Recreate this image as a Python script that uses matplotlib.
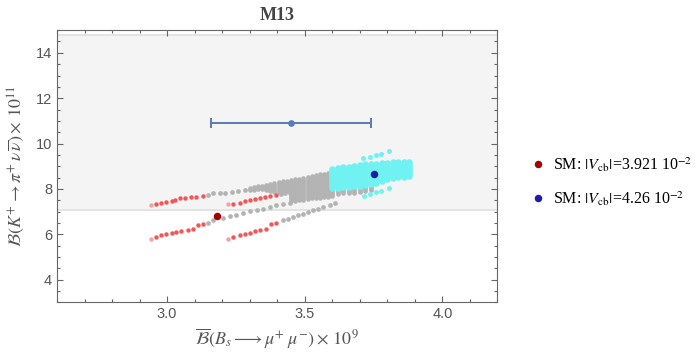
import numpy as np
import matplotlib
matplotlib.use("Agg")
import matplotlib.pyplot as plt
from matplotlib.ticker import MultipleLocator

# ======================
# Données
# ======================
# branches rouges (x, y)
red_a_x = [2.940, 2.958, 2.979, 2.997, 3.016, 3.028, 3.046, 3.064, 3.088, 3.106, 3.131]
red_a_y = [7.31, 7.35, 7.40, 7.43, 7.47, 7.53, 7.58, 7.62, 7.66, 7.65, 7.71]
red_b_x = [3.222, 3.240, 3.264, 3.282, 3.300, 3.318, 3.336, 3.355, 3.373, 3.397]
red_b_y = [7.32, 7.35, 7.40, 7.45, 7.50, 7.55, 7.60, 7.63, 7.68, 7.72]
red_c_x = [2.940, 2.961, 2.979, 2.997, 3.016, 3.034, 3.052, 3.076, 3.094, 3.113, 3.131]
red_c_y = [5.81, 5.88, 5.96, 6.00, 6.06, 6.10, 6.15, 6.18, 6.22, 6.43, 6.47]
red_d_x = [3.222, 3.240, 3.264, 3.282, 3.300, 3.318, 3.336, 3.361, 3.379, 3.397]
red_d_y = [5.81, 5.88, 5.96, 6.03, 6.07, 6.13, 6.18, 6.22, 6.47, 6.52]

# traces grises (points)
grey_up_x = [3.149, 3.167, 3.191, 3.209, 3.234, 3.258, 3.282]
grey_up_y = [7.75, 7.80, 7.80, 7.84, 7.87, 7.90, 7.94]
grey_low_x = [3.149, 3.167, 3.203, 3.227, 3.252, 3.276, 3.300, 3.325, 3.349, 3.373, 3.397, 3.421, 3.445]
grey_low_y = [6.52, 6.62, 6.74, 6.80, 6.87, 6.95, 7.02, 7.07, 7.13, 7.20, 7.28, 7.33, 7.38]
grey_mid_x = [3.415, 3.430, 3.445]
grey_mid_y = [7.76, 7.80, 7.84]
grey_right_x = [3.421, 3.440, 3.458, 3.476, 3.494, 3.512, 3.530, 3.548, 3.567, 3.590, 3.610]
grey_right_y = [6.62, 6.69, 6.76, 6.84, 6.91, 6.99, 7.06, 7.13, 7.21, 7.28, 7.36]
# zone grise dense (colonnes x, ymin, ymax)
grey_col_x = [3.300, 3.315, 3.330, 3.345, 3.360, 3.375, 3.390, 3.405, 3.420, 3.435,
              3.450, 3.465, 3.480, 3.495, 3.510, 3.525, 3.540, 3.555, 3.570, 3.585,
              3.600, 3.620, 3.640, 3.660, 3.680, 3.700, 3.720, 3.740]
grey_col_lo = [7.95, 7.96, 7.98, 7.99, 7.97, 7.93, 7.88, 7.86, 7.88, 7.90,
               7.45, 7.48, 7.50, 7.52, 7.55, 7.58, 7.60, 7.62, 7.64, 7.66,
               7.70, 7.76, 7.80, 7.82, 7.84, 7.86, 7.90, 7.95]
grey_col_hi = [8.04, 8.08, 8.11, 8.14, 8.18, 8.22, 8.25, 8.29, 8.33, 8.36,
               8.39, 8.42, 8.46, 8.50, 8.53, 8.57, 8.60, 8.64, 8.67, 8.70,
               8.60, 8.45, 8.35, 8.30, 8.30, 8.30, 8.30, 8.30]

# nuage cyan (colonnes x, ymin, ymax) + points isolés
cyan_col_x = [3.60, 3.62, 3.64, 3.66, 3.68, 3.70, 3.72, 3.74, 3.76, 3.78, 3.80, 3.82, 3.84, 3.86, 3.88]
cyan_col_lo = [8.02, 8.05, 8.08, 8.10, 8.12, 8.15, 8.18, 8.22, 8.28, 8.35, 8.42, 8.48, 8.52, 8.53, 8.55]
cyan_col_hi = [8.90, 8.92, 8.95, 8.98, 9.02, 9.05, 9.08, 9.10, 9.12, 9.14, 9.16, 9.18, 9.19, 9.19, 9.17]
cyan_up_x = [3.712, 3.736, 3.757, 3.778, 3.805]
cyan_up_y = [9.37, 9.41, 9.49, 9.56, 9.66]
cyan_dn_x = [3.716, 3.736, 3.757, 3.778, 3.805]
cyan_dn_y = [7.69, 7.78, 7.87, 7.91, 8.02]

# mesure expérimentale
exp_x, exp_xerr, exp_y = 3.45, 0.29, 10.9
band_lo, band_hi = 7.08, 14.78

# points SM
sm_red = (3.183, 6.81)
sm_blue = (3.752, 8.64)
sm_labels = [r"SM: $|V_{\rm cb}|$=3.921 10$^{-2}$", r"SM: $|V_{\rm cb}|$=4.26 10$^{-2}$"]

# ======================
# Figure
# ======================
plt.rcParams["mathtext.fontset"] = "stix"
fig = plt.figure(figsize=(7, 3.63), dpi=100)
ax = fig.add_axes([0.0814, 0.167, 0.6293, 0.750])

ax.axhspan(band_lo, band_hi, color="#f4f4f4", lw=0, zorder=0)
ax.axhline(band_lo, color="#e3e3e3", lw=1.4, zorder=0.5)
ax.axhline(band_hi, color="#e3e3e3", lw=1.4, zorder=0.5)

grey = "#b3b3b3"
red = "#f25757"
cyan = "#70f2f2"

ax.vlines(grey_col_x, grey_col_lo, grey_col_hi, color=grey, lw=3.4, capstyle="round", zorder=1)
for gx, gy in [(grey_up_x, grey_up_y), (grey_low_x, grey_low_y),
               (grey_mid_x, grey_mid_y), (grey_right_x, grey_right_y)]:
    ax.plot(gx, gy, "o", color=grey, ms=3.4, mew=0, zorder=1)

for rx, ry in [(red_a_x, red_a_y), (red_b_x, red_b_y), (red_c_x, red_c_y), (red_d_x, red_d_y)]:
    ax.plot(rx[1:], ry[1:], "o", color=red, ms=3.2, mew=0, zorder=2)
    ax.plot(rx[:1], ry[:1], "o", color="#f4a3a3", ms=3.2, mew=0, zorder=2)

ax.vlines(cyan_col_x, cyan_col_lo, cyan_col_hi, color=cyan, lw=4.8, capstyle="round", zorder=3)
ax.plot(cyan_up_x, cyan_up_y, "o", color=cyan, ms=3.6, mew=0, zorder=3)
ax.plot(cyan_dn_x, cyan_dn_y, "o", color=cyan, ms=3.6, mew=0, zorder=3)

ax.errorbar([exp_x], [exp_y], xerr=[exp_xerr], fmt="o", color="#5a7ab4", ms=3.8,
            lw=1.4, capsize=3.4, capthick=1.4, zorder=4)

h1, = ax.plot(*sm_red, "o", color="#a80000", ms=5.4, mew=0, zorder=5)
h2, = ax.plot(*sm_blue, "o", color="#1c1ca8", ms=5.4, mew=0, zorder=5)

ax.set_xlim(2.6, 4.2)
ax.set_ylim(3, 15)
ax.xaxis.set_major_locator(MultipleLocator(0.5))
ax.xaxis.set_minor_locator(MultipleLocator(0.1))
ax.yaxis.set_major_locator(MultipleLocator(2))
ax.yaxis.set_minor_locator(MultipleLocator(0.5))
ax.tick_params(which="both", direction="in", top=True, right=True, color="#666666",
               labelcolor="#555555", labelsize=10.5, width=0.8)
ax.tick_params(which="major", length=4.2)
ax.tick_params(which="minor", length=2.4)
ax.xaxis.set_major_formatter(plt.FuncFormatter(lambda v, p: f"{v:.1f}"))
for lab in ax.get_xticklabels() + ax.get_yticklabels():
    lab.set_family("Liberation Sans")
for s in ax.spines.values():
    s.set_color("#666666")
    s.set_linewidth(0.8)

ax.set_title("M13", family="Liberation Serif", fontweight="bold", fontsize=13,
             color="#444444", pad=7)
ax.set_xlabel(r"$\overline{\mathcal{B}}(B_s\longrightarrow\mu^{+}\;\mu^{-})\times\, 10^{9}$",
              fontsize=13, color="#555555", labelpad=4)
ax.set_ylabel(r"$\mathcal{B}(K^{+}\rightarrow\pi^{+}\,\nu\,\overline{\nu})\times\, 10^{11}$",
              fontsize=13, color="#555555", labelpad=6)

fig.legend([h1, h2], sm_labels, loc="center left", bbox_to_anchor=(0.735, 0.5),
           frameon=False, handletextpad=0.3, labelspacing=1.0, handlelength=1.2,
           prop={"family": "Liberation Serif", "size": 11.5})

fig.savefig("out.png", dpi=100)
